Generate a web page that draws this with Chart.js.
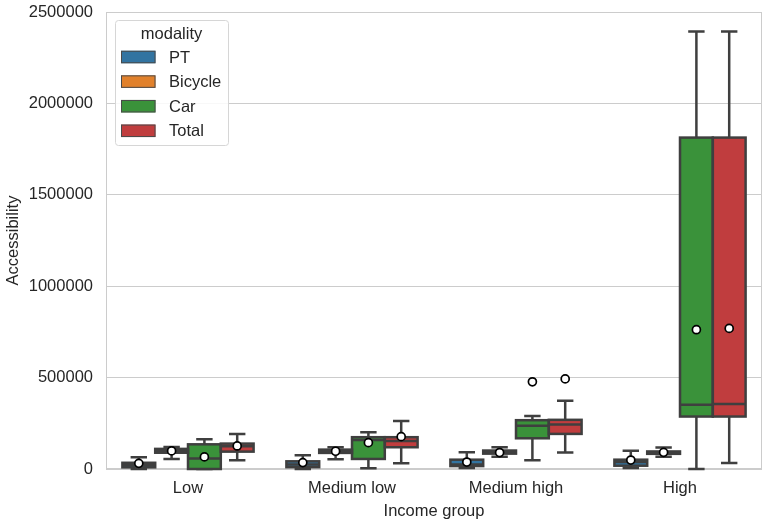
<!DOCTYPE html>
<html>
<head>
<meta charset="utf-8">
<script src="https://cdn.jsdelivr.net/npm/chart.js@4.4.1/dist/chart.umd.min.js"></script>
<style>
  html, body { margin: 0; padding: 0; background: #ffffff; }
  canvas { display: block; }
</style>
</head>
<body>
<canvas id="chart" width="764" height="521"></canvas>
<script>
// Income groups on the x axis and the transport modalities compared in each
const incomeGroups = ['Low', 'Medium low', 'Medium high', 'High'];
const modalities = ['PT', 'Bicycle', 'Car', 'Total'];
const yTickValues = [0, 500000, 1000000, 1500000, 2000000, 2500000];

// One row per income group: [lower whisker, Q1, median, Q3, upper whisker, mean]
const ptStats = [
  [0,     9000,  20000, 34000,  64000,  31000],
  [0,     10000, 24000, 42000,  75000,  35000],
  [5000,  16000, 25000, 51000,  91000,  38000],
  [5000,  18000, 38000, 51000,  100000, 49000]
];
const bicycleStats = [
  [55000, 89000, 100000, 110000, 120000, 99000],
  [53000, 88000, 97000,  106000, 119000, 97000],
  [67000, 84000, 92000,  101000, 119000, 90000],
  [67000, 83000, 90000,  96000,  117000, 91000]
];
const carStats = [
  [0,     0,      57000,  135000,  163000,  66000],
  [4000,  55000,  159000, 174000,  201000,  144000],
  [48000, 168000, 237000, 267000,  290000,  477000],
  [0,     287000, 351000, 1813000, 2394000, 762000]
];
const totalStats = [
  [48000, 95000,  124000, 139000,  192000,  126000],
  [31000, 119000, 153000, 174000,  263000,  177000],
  [90000, 192000, 243000, 269000,  373000,  493000],
  [33000, 287000, 356000, 1813000, 2394000, 769000]
];

const statsByModality = [ptStats, bicycleStats, carStats, totalStats];
const modalityColors = ['#3274a1', '#e1812c', '#3a923a', '#c03d3e'];

const LINE = '#3f3f3f';
const LINE_W = 2.5;
const TEXT = '#262626';
const FONT = '"Liberation Sans", Arial, Helvetica, sans-serif';

Chart.defaults.font.family = FONT;
Chart.defaults.font.size = 16.5;
Chart.defaults.color = TEXT;

function eachBox(chart, fn) {
  const yScale = chart.scales.y;
  chart.data.datasets.forEach((ds, i) => {
    chart.getDatasetMeta(i).data.forEach((bar, j) => {
      const { x, width } = bar.getProps(['x', 'width'], true);
      const s = statsByModality[i][j];
      fn({
        x, width,
        lo: yScale.getPixelForValue(s[0]),
        q1: yScale.getPixelForValue(s[1]),
        med: yScale.getPixelForValue(s[2]),
        q3: yScale.getPixelForValue(s[3]),
        hi: yScale.getPixelForValue(s[4]),
        mean: yScale.getPixelForValue(s[5])
      });
    });
  });
}

// Whiskers, box outlines, medians and mean markers around the Q1..Q3 bars
const boxPlotParts = {
  id: 'boxPlotParts',
  beforeDatasetsDraw(chart) {
    const ctx = chart.ctx;
    const area = chart.chartArea;
    ctx.save();
    // plot frame
    ctx.strokeStyle = '#cccccc';
    ctx.lineWidth = 1;
    ctx.strokeRect(area.left + 0.5, area.top + 0.5, area.right - area.left - 1, area.bottom - area.top - 1);
    // whiskers and caps
    ctx.strokeStyle = LINE;
    ctx.lineWidth = LINE_W;
    ctx.lineCap = 'butt';
    eachBox(chart, b => {
      const half = b.width / 4;
      ctx.beginPath();
      ctx.moveTo(b.x, b.q3); ctx.lineTo(b.x, b.hi);
      ctx.moveTo(b.x, b.q1); ctx.lineTo(b.x, b.lo);
      ctx.moveTo(b.x - half, b.hi); ctx.lineTo(b.x + half, b.hi);
      ctx.moveTo(b.x - half, b.lo); ctx.lineTo(b.x + half, b.lo);
      ctx.stroke();
    });
    ctx.restore();
  },
  afterDatasetsDraw(chart) {
    const ctx = chart.ctx;
    ctx.save();
    ctx.strokeStyle = LINE;
    ctx.lineWidth = LINE_W;
    ctx.lineJoin = 'miter';
    eachBox(chart, b => {
      ctx.strokeRect(b.x - b.width / 2, b.q3, b.width, b.q1 - b.q3);
      ctx.beginPath();
      ctx.moveTo(b.x - b.width / 2, b.med);
      ctx.lineTo(b.x + b.width / 2, b.med);
      ctx.stroke();
    });
    eachBox(chart, b => {
      ctx.beginPath();
      ctx.arc(b.x, b.mean, 4, 0, Math.PI * 2);
      ctx.fillStyle = '#ffffff';
      ctx.fill();
      ctx.lineWidth = 1.7;
      ctx.strokeStyle = '#000000';
      ctx.stroke();
    });
    ctx.restore();
  },
  afterDraw(chart) {
    // legend box in the upper-left corner of the plot
    const ctx = chart.ctx;
    const area = chart.chartArea;
    const bx = area.left + 9, by = area.top + 8, bw = 113, bh = 125;
    ctx.save();
    ctx.beginPath();
    ctx.roundRect(bx + 0.5, by + 0.5, bw, bh, 3);
    ctx.fillStyle = 'rgba(255,255,255,0.85)';
    ctx.fill();
    ctx.strokeStyle = '#d6d6d6';
    ctx.lineWidth = 1;
    ctx.stroke();

    ctx.font = '16.5px ' + FONT;
    ctx.fillStyle = TEXT;
    ctx.textAlign = 'center';
    ctx.textBaseline = 'middle';
    ctx.fillText('modality', bx + bw / 2, by + 14);

    ctx.textAlign = 'left';
    chart.data.datasets.forEach((ds, i) => {
      const cy = by + 37 + i * 24.6;
      ctx.fillStyle = ds.backgroundColor;
      ctx.fillRect(bx + 6, cy - 6.25, 34.5, 12.5);
      ctx.strokeStyle = '#4a4a4a';
      ctx.lineWidth = 1;
      ctx.strokeRect(bx + 6.5, cy - 5.75, 33.5, 11.5);
      ctx.fillStyle = TEXT;
      ctx.fillText(ds.label, bx + 54, cy + 1);
    });
    ctx.restore();
  }
};

const datasets = modalities.map((name, i) => ({
  label: name,
  data: statsByModality[i].map(s => [s[1], s[3]]),
  backgroundColor: modalityColors[i],
  borderWidth: 0,
  categoryPercentage: 0.8,
  barPercentage: 1.0
}));

new Chart(document.getElementById('chart'), {
  type: 'bar',
  data: { labels: incomeGroups, datasets },
  plugins: [boxPlotParts],
  options: {
    responsive: false,
    animation: false,
    layout: { padding: { left: 0, right: 2, top: 12, bottom: 0 } },
    plugins: {
      legend: { display: false },
      tooltip: { enabled: false }
    },
    scales: {
      x: {
        type: 'category',
        offset: true,
        grid: { display: false, drawTicks: false },
        border: { display: false },
        ticks: { padding: 10, color: TEXT, font: { size: 16.5 } },
        title: { display: true, text: 'Income group', color: TEXT, font: { size: 16.5 }, padding: { top: 0, bottom: 0 } },
        afterFit(scale) { scale.height = 52; }
      },
      y: {
        min: 0,
        max: 2500000,
        afterBuildTicks(scale) { scale.ticks = yTickValues.map(v => ({ value: v })); },
        grid: { color: '#cccccc', lineWidth: 1, drawTicks: false },
        border: { display: false },
        ticks: { padding: 13, color: TEXT, font: { size: 16.5 }, callback: v => String(v) },
        title: { display: true, text: 'Accessibility', color: TEXT, font: { size: 16.5 }, padding: { top: 4, bottom: 0 } },
        afterFit(scale) {
          scale.width = 106;
          scale.paddingTop = 0;
          scale.paddingBottom = 0;
        }
      }
    }
  }
});
</script>
</body>
</html>
